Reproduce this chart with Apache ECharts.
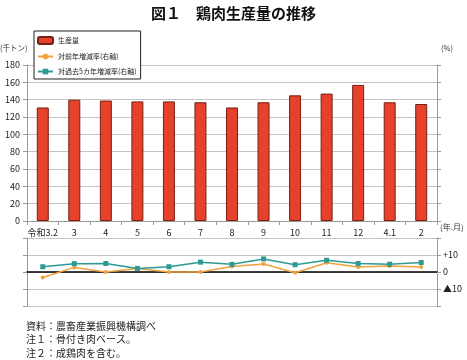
<!DOCTYPE html>
<html><head><meta charset="utf-8">
<script src="https://cdn.jsdelivr.net/npm/echarts@6/dist/echarts.min.js"></script>
<style>html,body{margin:0;padding:0;background:#fff}#c{width:467px;height:360px}</style>
</head><body><div id="c"></div>
<script>
const categories = ['令和3.2','3','4','5','6','7','8','9','10','11','12','4.1','2'];
const production = [131,140,139,138,138,137,131,137,145,147,157,137,135];
const yoyChange = [-3.2,2.7,0,2.1,0,0,3.3,4.7,-0.4,5.4,2.9,3.5,2.9];
const fiveYearChange = [3.1,4.9,5.0,2.1,3.1,5.8,4.5,7.7,4.3,6.9,5.0,4.6,5.6];
const leftTicks = [0,20,40,60,80,100,120,140,160,180];
const rightTickLabels = {'10':'+10','0':'0','-10':'▲10'};
const notes = ['資料：農畜産業振興機構調べ','注１：骨付き肉ベース。','注２：成鶏肉を含む。'];

const FONT = '"Noto Sans CJK JP", sans-serif';
const chart = echarts.init(document.getElementById('c'), null, {renderer:'canvas'});
const gridColor = '#c4c4c4';
const axisColor = '#9a9a9a';
chart.setOption({
  animation:false,
  textStyle:{fontFamily:FONT},
  title:[
    {text:'図１　鶏肉生産量の推移', left:'center', top:1, textStyle:{fontSize:15, fontWeight:'bold', color:'#111', fontFamily:FONT}},
  ],
  graphic:[
    {type:'text', left:0, top:44, style:{text:'(千トン)', fontSize:7.5, fill:'#333', fontFamily:FONT}},
    {type:'text', left:441, top:44, style:{text:'(%)', fontSize:7.5, fill:'#333', fontFamily:FONT}},
    {type:'text', left:440, top:223, style:{text:'(年.月)', fontSize:8, fill:'#333', fontFamily:FONT}},
    {type:'text', left:26, top:319, style:{text:notes.join('\n'), fontSize:10, lineHeight:13.5, fill:'#222', fontFamily:FONT}}
  ],
  legend:{
    orient:'vertical', left:34, top:31,
    backgroundColor:'#fff', borderColor:'#222', borderWidth:1,
    padding:[5,4,4,3], itemGap:8, itemWidth:15, itemHeight:7,
    textStyle:{fontSize:7, color:'#222', fontFamily:FONT},
    data:['生産量','対前年増減率(右軸)','対過去5カ年増減率(右軸)']
  },
  grid:[
    {left:27, right:30, top:65, height:156},
    {left:27, right:30, top:238, height:68}
  ],
  xAxis:[
    {type:'category', gridIndex:0, data:categories, boundaryGap:true,
     axisLine:{lineStyle:{color:axisColor}},
     axisTick:{show:true, length:4, lineStyle:{color:axisColor}},
     axisLabel:{fontSize:9, color:'#222', margin:7, interval:0}},
    {type:'category', gridIndex:1, data:categories, boundaryGap:true,
     axisLine:{onZero:true, lineStyle:{color:'#000', width:1.6}},
     axisTick:{show:false}, axisLabel:{show:false}}
  ],
  yAxis:[
    {type:'value', gridIndex:0, min:0, max:180, interval:20,
     axisLine:{show:true, lineStyle:{color:axisColor}},
     axisTick:{show:true, inside:false, length:4, lineStyle:{color:axisColor}},
     axisLabel:{fontSize:9, color:'#222', margin:7, formatter:v=>leftTicks.includes(v)?String(v):''},
     splitLine:{lineStyle:{color:gridColor}}},
    {type:'value', gridIndex:0, position:'right', min:0, max:180, interval:20,
     axisLine:{show:true, lineStyle:{color:axisColor}},
     axisTick:{show:true, length:4, lineStyle:{color:axisColor}},
     axisLabel:{show:false}, splitLine:{show:false}},
    {type:'value', gridIndex:1, position:'left', min:-20, max:20, interval:10,
     axisLine:{show:true, lineStyle:{color:axisColor}},
     axisTick:{show:true, length:4, lineStyle:{color:axisColor}},
     axisLabel:{show:false},
     splitLine:{lineStyle:{color:gridColor}}},
    {type:'value', gridIndex:1, position:'right', min:-20, max:20, interval:10,
     axisLine:{show:true, lineStyle:{color:axisColor}},
     axisTick:{show:true, length:4, lineStyle:{color:axisColor}},
     axisLabel:{fontSize:9, color:'#222', margin:6, formatter:v=>rightTickLabels[String(v)]||''},
     splitLine:{show:false}}
  ],
  series:[
    {name:'生産量', type:'bar', xAxisIndex:0, yAxisIndex:0, data:production, barWidth:12,
     itemStyle:{color:'#e5412b', borderColor:'#7a1f14', borderWidth:1}},
    {name:'対前年増減率(右軸)', type:'line', xAxisIndex:1, yAxisIndex:3, data:yoyChange,
     symbol:'circle', symbolSize:4, lineStyle:{color:'#f0a23c', width:1.5},
     itemStyle:{color:'#f0a23c'}},
    {name:'対過去5カ年増減率(右軸)', type:'line', xAxisIndex:1, yAxisIndex:3, data:fiveYearChange,
     symbol:'rect', symbolSize:5, lineStyle:{color:'#2e9a94', width:1.5},
     itemStyle:{color:'#2e9a94'}}
  ]
});
</script></body></html>
